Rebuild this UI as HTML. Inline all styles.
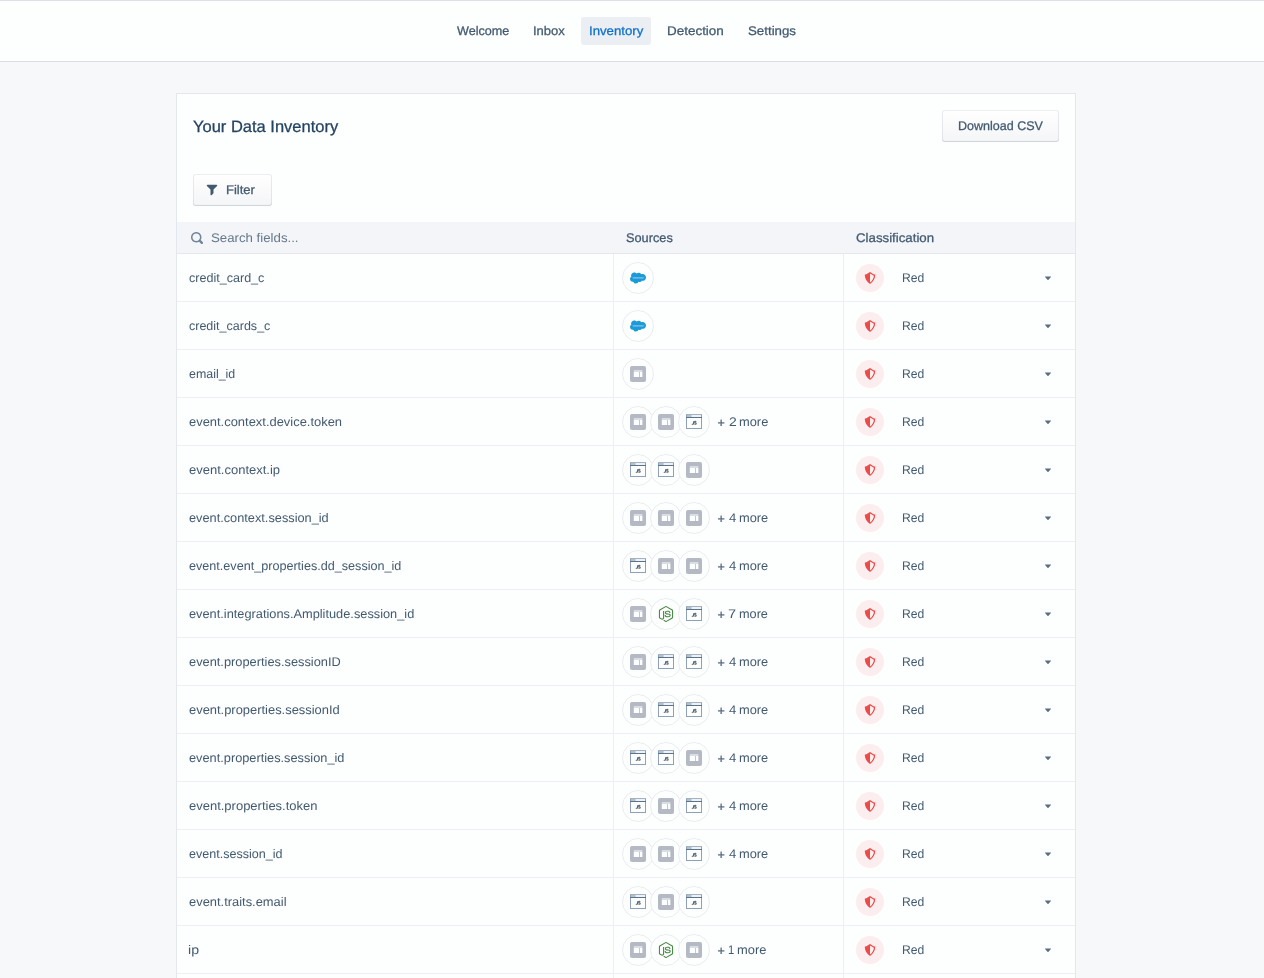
<!DOCTYPE html>
<html><head><meta charset="utf-8"><title>Your Data Inventory</title>
<style>
html,body{margin:0;padding:0}
html{width:1264px;height:978px;overflow:hidden}
body{width:1264px;height:978px;overflow:hidden;position:relative;background:#F6F8FA;font-family:"Liberation Sans",sans-serif}
.abs{position:absolute;display:block}
.nav{position:absolute;left:0;top:0;width:1264px;height:61px;background:#FDFEFE;border-top:1px solid #DCDFE5;border-bottom:1px solid #DADFE5;box-sizing:content-box;height:60px}
.pill{position:absolute;left:581px;top:17px;width:70px;height:28px;border-radius:3px;background:#EBEFF4}
.card{position:absolute;left:176px;top:93px;width:898px;height:884px;border:1px solid #E4E7EB;border-bottom:0;background:#FDFEFE}
.btn{position:absolute;box-sizing:border-box;border-radius:3px;background:linear-gradient(to bottom,#FFFFFF,#F4F5F7);box-shadow:inset 0 0 0 1px rgba(67,90,111,0.10),inset 0 -1px 1px 0 rgba(67,90,111,0.12)}
.thead{position:absolute;left:177px;top:222px;width:898px;height:31px;background:#F3F5F8;border-bottom:1px solid #E4E7EB;border-top:0}
.vsep{position:absolute;top:254px;width:1px;height:724px;background:#EDF0F2}
.hsep{position:absolute;left:177px;width:898px;height:1px;background:#EDF0F2}
.circ{position:absolute;width:30px;height:30px;border:1px solid #EAEDF1;border-radius:50%;background:#FDFEFE}
.circ .ic{position:absolute;left:7px;top:7px;display:block}
.pink{position:absolute;left:856px;width:28px;height:28px;border-radius:50%;background:#FCEEEE}
.pink .sh{position:absolute;left:8px;top:8px;display:block}
.ca{display:block}
.t{position:absolute;white-space:nowrap;text-rendering:geometricPrecision;line-height:0;height:0;transform-origin:0 0}
.tl{position:absolute;left:0;top:0;width:1264px;height:978px;will-change:transform}
.t.m{-webkit-text-stroke:0.28px currentColor}
</style></head>
<body>
<div class="nav"></div>
<div class="pill"></div>
<div class="card">
</div>
<div class="btn" style="left:942px;top:110px;width:117px;height:32px"></div>
<div class="btn" style="left:193px;top:174px;width:79px;height:32px"></div>
<svg class="abs" style="left:206px;top:184px" width="12" height="12" viewBox="0 0 16 16"><path fill="#425A70" d="M13.990.990h-12a1.003 1.003 0 00-.710 1.710l4.710 4.710V14a1.003 1.003 0 001.710.710l2-2c.180-.180.290-.430.290-.710V7.410l4.710-4.710a1.003 1.003 0 00-.710-1.710z"/></svg>
<div class="thead"></div>
<svg class="abs" style="left:191px;top:231.6px" width="12" height="12" viewBox="0 0 16 16"><path fill="#70849A" d="M15.550 13.430l-2.670-2.680a6.940 6.940 0 001.110-3.760c0-3.870-3.130-7-7-7s-7 3.130-7 7 3.130 7 7 7c1.390 0 2.680-.420 3.760-1.110l2.680 2.670a1.498 1.498 0 102.120-2.120zm-8.560-1.440c-2.760 0-5-2.240-5-5s2.240-5 5-5 5 2.240 5 5-2.240 5-5 5z"/></svg>
<div class="vsep" style="left:613px"></div>
<div class="vsep" style="left:843px"></div>
<div class="hsep" style="top:301px"></div>
<div class="circ" style="left:622px;top:262px"><svg class="ic" style="top:7.1px" width="16" height="16" viewBox="0 0 24 24"><path fill="#1B9ADA" d="M10.006 5.415a4.195 4.195 0 013.045-1.306c1.56 0 2.954.9 3.69 2.205.63-.3 1.35-.45 2.1-.45 2.85 0 5.159 2.34 5.159 5.22s-2.31 5.22-5.176 5.22c-.345 0-.69-.044-1.02-.104a3.75 3.75 0 01-3.3 1.95c-.6 0-1.155-.15-1.65-.375A4.314 4.314 0 018.88 20.4a4.302 4.302 0 01-4.05-2.82c-.27.062-.54.076-.825.076-2.204 0-4.005-1.8-4.005-4.05 0-1.5.811-2.805 2.01-3.51-.255-.57-.39-1.2-.39-1.846 0-2.58 2.1-4.65 4.65-4.65 1.53 0 2.85.705 3.72 1.8"/><rect x="4" y="11" width="16.5" height="1.7" fill="#8CCBEC"/></svg></div>
<div class="pink" style="top:264px"><svg class="sh" width="12" height="12" viewBox="0 0 16 16"><path fill="#EC4C47" fill-rule="evenodd" d="M8 16c4.667-3.048 7-7.238 7-12.571-1.556 0-3.889-1.143-7-3.429-3.111 2.286-5.444 3.429-7 3.429C1 8.762 3.333 12.952 8 16zM8 2.121c2.005 1.388 3.715 2.304 5.186 2.735-.342 3.702-2.055 6.741-5.186 9.203V2.121z"/></svg></div>
<div class="abs" style="left:1042px;top:272px;width:12px;height:12px"><svg class="ca" width="12" height="12" viewBox="0 0 16 16"><path fill="#5A6E83" d="M12 6.500c0-.280-.220-.500-.500-.500h-7a.495.495 0 00-.370.830l3.500 4c.090.100.220.170.370.170s.280-.070.370-.170l3.500-4c.080-.090.130-.200.130-.330z"/></svg></div>
<div class="hsep" style="top:349px"></div>
<div class="circ" style="left:622px;top:310px"><svg class="ic" style="top:7.1px" width="16" height="16" viewBox="0 0 24 24"><path fill="#1B9ADA" d="M10.006 5.415a4.195 4.195 0 013.045-1.306c1.56 0 2.954.9 3.69 2.205.63-.3 1.35-.45 2.1-.45 2.85 0 5.159 2.34 5.159 5.22s-2.31 5.22-5.176 5.22c-.345 0-.69-.044-1.02-.104a3.75 3.75 0 01-3.3 1.95c-.6 0-1.155-.15-1.65-.375A4.314 4.314 0 018.88 20.4a4.302 4.302 0 01-4.05-2.82c-.27.062-.54.076-.825.076-2.204 0-4.005-1.8-4.005-4.05 0-1.5.811-2.805 2.01-3.51-.255-.57-.39-1.2-.39-1.846 0-2.58 2.1-4.65 4.65-4.65 1.53 0 2.85.705 3.72 1.8"/><rect x="4" y="11" width="16.5" height="1.7" fill="#8CCBEC"/></svg></div>
<div class="pink" style="top:312px"><svg class="sh" width="12" height="12" viewBox="0 0 16 16"><path fill="#EC4C47" fill-rule="evenodd" d="M8 16c4.667-3.048 7-7.238 7-12.571-1.556 0-3.889-1.143-7-3.429-3.111 2.286-5.444 3.429-7 3.429C1 8.762 3.333 12.952 8 16zM8 2.121c2.005 1.388 3.715 2.304 5.186 2.735-.342 3.702-2.055 6.741-5.186 9.203V2.121z"/></svg></div>
<div class="abs" style="left:1042px;top:320px;width:12px;height:12px"><svg class="ca" width="12" height="12" viewBox="0 0 16 16"><path fill="#5A6E83" d="M12 6.500c0-.280-.220-.500-.500-.500h-7a.495.495 0 00-.370.830l3.500 4c.090.100.220.170.370.170s.280-.070.370-.170l3.500-4c.080-.090.130-.200.130-.330z"/></svg></div>
<div class="hsep" style="top:397px"></div>
<div class="circ" style="left:622px;top:358px"><svg class="ic" width="16" height="16" viewBox="0 0 16 16"><rect width="16" height="16" rx="2" fill="#B4B9C3"/><rect x="3.8" y="4" width="8.6" height="2" fill="#DADDE3"/><rect x="3.8" y="6" width="5.2" height="5" fill="#FDFEFE"/><rect x="9.8" y="6" width="2.6" height="5" fill="#FDFEFE"/></svg></div>
<div class="pink" style="top:360px"><svg class="sh" width="12" height="12" viewBox="0 0 16 16"><path fill="#EC4C47" fill-rule="evenodd" d="M8 16c4.667-3.048 7-7.238 7-12.571-1.556 0-3.889-1.143-7-3.429-3.111 2.286-5.444 3.429-7 3.429C1 8.762 3.333 12.952 8 16zM8 2.121c2.005 1.388 3.715 2.304 5.186 2.735-.342 3.702-2.055 6.741-5.186 9.203V2.121z"/></svg></div>
<div class="abs" style="left:1042px;top:368px;width:12px;height:12px"><svg class="ca" width="12" height="12" viewBox="0 0 16 16"><path fill="#5A6E83" d="M12 6.500c0-.280-.220-.500-.500-.500h-7a.495.495 0 00-.370.830l3.500 4c.090.100.220.170.370.170s.280-.070.370-.170l3.500-4c.080-.090.130-.200.130-.330z"/></svg></div>
<div class="hsep" style="top:445px"></div>
<div class="circ" style="left:622px;top:406px"><svg class="ic" width="16" height="16" viewBox="0 0 16 16"><rect width="16" height="16" rx="2" fill="#B4B9C3"/><rect x="3.8" y="4" width="8.6" height="2" fill="#DADDE3"/><rect x="3.8" y="6" width="5.2" height="5" fill="#FDFEFE"/><rect x="9.8" y="6" width="2.6" height="5" fill="#FDFEFE"/></svg></div>
<div class="circ" style="left:650px;top:406px"><svg class="ic" width="16" height="16" viewBox="0 0 16 16"><rect width="16" height="16" rx="2" fill="#B4B9C3"/><rect x="3.8" y="4" width="8.6" height="2" fill="#DADDE3"/><rect x="3.8" y="6" width="5.2" height="5" fill="#FDFEFE"/><rect x="9.8" y="6" width="2.6" height="5" fill="#FDFEFE"/></svg></div>
<div class="circ" style="left:678px;top:406px"><svg class="ic" width="16" height="16" viewBox="0 0 16 16"><rect x="0.5" y="0.5" width="15" height="14" fill="#FDFEFE" stroke="#8EA0B5"/><rect x="0" y="0" width="16" height="1" fill="#A3B2C3"/><rect x="1" y="1" width="14" height="2" fill="#EEF2F6"/><rect x="1" y="1" width="4.6" height="2" fill="#B6C0CC"/><rect x="0" y="3" width="16" height="1" fill="#5A748F"/><g fill="none" stroke="#4F5F73" stroke-width="1.05"><path d="M7.6 7.2v2.3q0 .8-.8.8q-.6 0-.9-.45"/><path d="M10.2 7.75q-.25-.5-.85-.5q-.8 0-.8.65q0 .5.85.75q.85.25.85.9q0 .75-.9.75q-.7 0-.95-.5"/></g></svg></div>
<div class="pink" style="top:408px"><svg class="sh" width="12" height="12" viewBox="0 0 16 16"><path fill="#EC4C47" fill-rule="evenodd" d="M8 16c4.667-3.048 7-7.238 7-12.571-1.556 0-3.889-1.143-7-3.429-3.111 2.286-5.444 3.429-7 3.429C1 8.762 3.333 12.952 8 16zM8 2.121c2.005 1.388 3.715 2.304 5.186 2.735-.342 3.702-2.055 6.741-5.186 9.203V2.121z"/></svg></div>
<div class="abs" style="left:1042px;top:416px;width:12px;height:12px"><svg class="ca" width="12" height="12" viewBox="0 0 16 16"><path fill="#5A6E83" d="M12 6.500c0-.280-.220-.500-.500-.500h-7a.495.495 0 00-.370.830l3.500 4c.090.100.220.170.370.170s.280-.070.370-.170l3.500-4c.080-.090.130-.200.130-.330z"/></svg></div>
<div class="hsep" style="top:493px"></div>
<div class="circ" style="left:622px;top:454px"><svg class="ic" width="16" height="16" viewBox="0 0 16 16"><rect x="0.5" y="0.5" width="15" height="14" fill="#FDFEFE" stroke="#8EA0B5"/><rect x="0" y="0" width="16" height="1" fill="#A3B2C3"/><rect x="1" y="1" width="14" height="2" fill="#EEF2F6"/><rect x="1" y="1" width="4.6" height="2" fill="#B6C0CC"/><rect x="0" y="3" width="16" height="1" fill="#5A748F"/><g fill="none" stroke="#4F5F73" stroke-width="1.05"><path d="M7.6 7.2v2.3q0 .8-.8.8q-.6 0-.9-.45"/><path d="M10.2 7.75q-.25-.5-.85-.5q-.8 0-.8.65q0 .5.85.75q.85.25.85.9q0 .75-.9.75q-.7 0-.95-.5"/></g></svg></div>
<div class="circ" style="left:650px;top:454px"><svg class="ic" width="16" height="16" viewBox="0 0 16 16"><rect x="0.5" y="0.5" width="15" height="14" fill="#FDFEFE" stroke="#8EA0B5"/><rect x="0" y="0" width="16" height="1" fill="#A3B2C3"/><rect x="1" y="1" width="14" height="2" fill="#EEF2F6"/><rect x="1" y="1" width="4.6" height="2" fill="#B6C0CC"/><rect x="0" y="3" width="16" height="1" fill="#5A748F"/><g fill="none" stroke="#4F5F73" stroke-width="1.05"><path d="M7.6 7.2v2.3q0 .8-.8.8q-.6 0-.9-.45"/><path d="M10.2 7.75q-.25-.5-.85-.5q-.8 0-.8.65q0 .5.85.75q.85.25.85.9q0 .75-.9.75q-.7 0-.95-.5"/></g></svg></div>
<div class="circ" style="left:678px;top:454px"><svg class="ic" width="16" height="16" viewBox="0 0 16 16"><rect width="16" height="16" rx="2" fill="#B4B9C3"/><rect x="3.8" y="4" width="8.6" height="2" fill="#DADDE3"/><rect x="3.8" y="6" width="5.2" height="5" fill="#FDFEFE"/><rect x="9.8" y="6" width="2.6" height="5" fill="#FDFEFE"/></svg></div>
<div class="pink" style="top:456px"><svg class="sh" width="12" height="12" viewBox="0 0 16 16"><path fill="#EC4C47" fill-rule="evenodd" d="M8 16c4.667-3.048 7-7.238 7-12.571-1.556 0-3.889-1.143-7-3.429-3.111 2.286-5.444 3.429-7 3.429C1 8.762 3.333 12.952 8 16zM8 2.121c2.005 1.388 3.715 2.304 5.186 2.735-.342 3.702-2.055 6.741-5.186 9.203V2.121z"/></svg></div>
<div class="abs" style="left:1042px;top:464px;width:12px;height:12px"><svg class="ca" width="12" height="12" viewBox="0 0 16 16"><path fill="#5A6E83" d="M12 6.500c0-.280-.220-.500-.500-.500h-7a.495.495 0 00-.370.830l3.500 4c.090.100.220.170.370.170s.280-.070.370-.170l3.500-4c.080-.090.130-.200.130-.330z"/></svg></div>
<div class="hsep" style="top:541px"></div>
<div class="circ" style="left:622px;top:502px"><svg class="ic" width="16" height="16" viewBox="0 0 16 16"><rect width="16" height="16" rx="2" fill="#B4B9C3"/><rect x="3.8" y="4" width="8.6" height="2" fill="#DADDE3"/><rect x="3.8" y="6" width="5.2" height="5" fill="#FDFEFE"/><rect x="9.8" y="6" width="2.6" height="5" fill="#FDFEFE"/></svg></div>
<div class="circ" style="left:650px;top:502px"><svg class="ic" width="16" height="16" viewBox="0 0 16 16"><rect width="16" height="16" rx="2" fill="#B4B9C3"/><rect x="3.8" y="4" width="8.6" height="2" fill="#DADDE3"/><rect x="3.8" y="6" width="5.2" height="5" fill="#FDFEFE"/><rect x="9.8" y="6" width="2.6" height="5" fill="#FDFEFE"/></svg></div>
<div class="circ" style="left:678px;top:502px"><svg class="ic" width="16" height="16" viewBox="0 0 16 16"><rect width="16" height="16" rx="2" fill="#B4B9C3"/><rect x="3.8" y="4" width="8.6" height="2" fill="#DADDE3"/><rect x="3.8" y="6" width="5.2" height="5" fill="#FDFEFE"/><rect x="9.8" y="6" width="2.6" height="5" fill="#FDFEFE"/></svg></div>
<div class="pink" style="top:504px"><svg class="sh" width="12" height="12" viewBox="0 0 16 16"><path fill="#EC4C47" fill-rule="evenodd" d="M8 16c4.667-3.048 7-7.238 7-12.571-1.556 0-3.889-1.143-7-3.429-3.111 2.286-5.444 3.429-7 3.429C1 8.762 3.333 12.952 8 16zM8 2.121c2.005 1.388 3.715 2.304 5.186 2.735-.342 3.702-2.055 6.741-5.186 9.203V2.121z"/></svg></div>
<div class="abs" style="left:1042px;top:512px;width:12px;height:12px"><svg class="ca" width="12" height="12" viewBox="0 0 16 16"><path fill="#5A6E83" d="M12 6.500c0-.280-.220-.500-.500-.500h-7a.495.495 0 00-.370.830l3.500 4c.090.100.220.170.370.170s.280-.070.370-.170l3.500-4c.080-.090.130-.200.130-.330z"/></svg></div>
<div class="hsep" style="top:589px"></div>
<div class="circ" style="left:622px;top:550px"><svg class="ic" width="16" height="16" viewBox="0 0 16 16"><rect x="0.5" y="0.5" width="15" height="14" fill="#FDFEFE" stroke="#8EA0B5"/><rect x="0" y="0" width="16" height="1" fill="#A3B2C3"/><rect x="1" y="1" width="14" height="2" fill="#EEF2F6"/><rect x="1" y="1" width="4.6" height="2" fill="#B6C0CC"/><rect x="0" y="3" width="16" height="1" fill="#5A748F"/><g fill="none" stroke="#4F5F73" stroke-width="1.05"><path d="M7.6 7.2v2.3q0 .8-.8.8q-.6 0-.9-.45"/><path d="M10.2 7.75q-.25-.5-.85-.5q-.8 0-.8.65q0 .5.85.75q.85.25.85.9q0 .75-.9.75q-.7 0-.95-.5"/></g></svg></div>
<div class="circ" style="left:650px;top:550px"><svg class="ic" width="16" height="16" viewBox="0 0 16 16"><rect width="16" height="16" rx="2" fill="#B4B9C3"/><rect x="3.8" y="4" width="8.6" height="2" fill="#DADDE3"/><rect x="3.8" y="6" width="5.2" height="5" fill="#FDFEFE"/><rect x="9.8" y="6" width="2.6" height="5" fill="#FDFEFE"/></svg></div>
<div class="circ" style="left:678px;top:550px"><svg class="ic" width="16" height="16" viewBox="0 0 16 16"><rect width="16" height="16" rx="2" fill="#B4B9C3"/><rect x="3.8" y="4" width="8.6" height="2" fill="#DADDE3"/><rect x="3.8" y="6" width="5.2" height="5" fill="#FDFEFE"/><rect x="9.8" y="6" width="2.6" height="5" fill="#FDFEFE"/></svg></div>
<div class="pink" style="top:552px"><svg class="sh" width="12" height="12" viewBox="0 0 16 16"><path fill="#EC4C47" fill-rule="evenodd" d="M8 16c4.667-3.048 7-7.238 7-12.571-1.556 0-3.889-1.143-7-3.429-3.111 2.286-5.444 3.429-7 3.429C1 8.762 3.333 12.952 8 16zM8 2.121c2.005 1.388 3.715 2.304 5.186 2.735-.342 3.702-2.055 6.741-5.186 9.203V2.121z"/></svg></div>
<div class="abs" style="left:1042px;top:560px;width:12px;height:12px"><svg class="ca" width="12" height="12" viewBox="0 0 16 16"><path fill="#5A6E83" d="M12 6.500c0-.280-.220-.500-.500-.500h-7a.495.495 0 00-.370.830l3.500 4c.090.100.220.170.370.170s.280-.070.370-.170l3.500-4c.080-.090.130-.200.130-.330z"/></svg></div>
<div class="hsep" style="top:637px"></div>
<div class="circ" style="left:622px;top:598px"><svg class="ic" width="16" height="16" viewBox="0 0 16 16"><rect width="16" height="16" rx="2" fill="#B4B9C3"/><rect x="3.8" y="4" width="8.6" height="2" fill="#DADDE3"/><rect x="3.8" y="6" width="5.2" height="5" fill="#FDFEFE"/><rect x="9.8" y="6" width="2.6" height="5" fill="#FDFEFE"/></svg></div>
<div class="circ" style="left:650px;top:598px"><svg class="ic" width="16" height="16" viewBox="0 0 24 24"><path fill="#43873E" d="M11.998,24c-0.321,0-0.641-0.084-0.922-0.247l-2.936-1.737c-0.438-0.245-0.224-0.332-0.08-0.383 c0.585-0.203,0.703-0.25,1.328-0.604c0.065-0.037,0.151-0.023,0.218,0.017l2.256,1.339c0.082,0.045,0.197,0.045,0.272,0l8.795-5.076 c0.082-0.047,0.134-0.141,0.134-0.238V6.921c0-0.099-0.053-0.192-0.137-0.242l-8.791-5.072c-0.081-0.047-0.189-0.047-0.271,0 L3.075,6.68C2.99,6.729,2.936,6.825,2.936,6.921v10.15c0,0.097,0.054,0.189,0.139,0.235l2.409,1.392 c1.307,0.654,2.108-0.116,2.108-0.89V7.787c0-0.142,0.114-0.253,0.256-0.253h1.115c0.139,0,0.255,0.112,0.255,0.253v10.021 c0,1.745-0.95,2.745-2.604,2.745c-0.508,0-0.909,0-2.026-0.551L2.28,18.675c-0.57-0.329-0.922-0.945-0.922-1.604V6.921 c0-0.659,0.353-1.275,0.922-1.603l8.795-5.082c0.557-0.315,1.296-0.315,1.848,0l8.794,5.082c0.57,0.329,0.924,0.944,0.924,1.603 v10.15c0,0.659-0.354,1.273-0.924,1.604l-8.794,5.078C12.643,23.916,12.324,24,11.998,24z M19.099,13.993 c0-1.9-1.284-2.406-3.987-2.763c-2.731-0.361-3.009-0.548-3.009-1.187c0-0.528,0.235-1.233,2.258-1.233 c1.807,0,2.473,0.389,2.747,1.607c0.024,0.115,0.129,0.199,0.247,0.199h1.141c0.071,0,0.138-0.031,0.186-0.081 c0.048-0.054,0.074-0.123,0.067-0.196c-0.177-2.098-1.571-3.076-4.388-3.076c-2.508,0-4.004,1.058-4.004,2.833 c0,1.925,1.488,2.457,3.895,2.695c2.88,0.282,3.103,0.703,3.103,1.269c0,0.983-0.789,1.402-2.642,1.402 c-2.327,0-2.839-0.584-3.011-1.742c-0.02-0.124-0.126-0.215-0.253-0.215h-1.137c-0.141,0-0.254,0.112-0.254,0.253 c0,1.482,0.806,3.248,4.655,3.248C17.501,17.007,19.099,15.91,19.099,13.993z"/></svg></div>
<div class="circ" style="left:678px;top:598px"><svg class="ic" width="16" height="16" viewBox="0 0 16 16"><rect x="0.5" y="0.5" width="15" height="14" fill="#FDFEFE" stroke="#8EA0B5"/><rect x="0" y="0" width="16" height="1" fill="#A3B2C3"/><rect x="1" y="1" width="14" height="2" fill="#EEF2F6"/><rect x="1" y="1" width="4.6" height="2" fill="#B6C0CC"/><rect x="0" y="3" width="16" height="1" fill="#5A748F"/><g fill="none" stroke="#4F5F73" stroke-width="1.05"><path d="M7.6 7.2v2.3q0 .8-.8.8q-.6 0-.9-.45"/><path d="M10.2 7.75q-.25-.5-.85-.5q-.8 0-.8.65q0 .5.85.75q.85.25.85.9q0 .75-.9.75q-.7 0-.95-.5"/></g></svg></div>
<div class="pink" style="top:600px"><svg class="sh" width="12" height="12" viewBox="0 0 16 16"><path fill="#EC4C47" fill-rule="evenodd" d="M8 16c4.667-3.048 7-7.238 7-12.571-1.556 0-3.889-1.143-7-3.429-3.111 2.286-5.444 3.429-7 3.429C1 8.762 3.333 12.952 8 16zM8 2.121c2.005 1.388 3.715 2.304 5.186 2.735-.342 3.702-2.055 6.741-5.186 9.203V2.121z"/></svg></div>
<div class="abs" style="left:1042px;top:608px;width:12px;height:12px"><svg class="ca" width="12" height="12" viewBox="0 0 16 16"><path fill="#5A6E83" d="M12 6.500c0-.280-.220-.500-.500-.500h-7a.495.495 0 00-.370.830l3.500 4c.090.100.220.170.370.170s.280-.070.370-.170l3.500-4c.080-.090.130-.200.130-.330z"/></svg></div>
<div class="hsep" style="top:685px"></div>
<div class="circ" style="left:622px;top:646px"><svg class="ic" width="16" height="16" viewBox="0 0 16 16"><rect width="16" height="16" rx="2" fill="#B4B9C3"/><rect x="3.8" y="4" width="8.6" height="2" fill="#DADDE3"/><rect x="3.8" y="6" width="5.2" height="5" fill="#FDFEFE"/><rect x="9.8" y="6" width="2.6" height="5" fill="#FDFEFE"/></svg></div>
<div class="circ" style="left:650px;top:646px"><svg class="ic" width="16" height="16" viewBox="0 0 16 16"><rect x="0.5" y="0.5" width="15" height="14" fill="#FDFEFE" stroke="#8EA0B5"/><rect x="0" y="0" width="16" height="1" fill="#A3B2C3"/><rect x="1" y="1" width="14" height="2" fill="#EEF2F6"/><rect x="1" y="1" width="4.6" height="2" fill="#B6C0CC"/><rect x="0" y="3" width="16" height="1" fill="#5A748F"/><g fill="none" stroke="#4F5F73" stroke-width="1.05"><path d="M7.6 7.2v2.3q0 .8-.8.8q-.6 0-.9-.45"/><path d="M10.2 7.75q-.25-.5-.85-.5q-.8 0-.8.65q0 .5.85.75q.85.25.85.9q0 .75-.9.75q-.7 0-.95-.5"/></g></svg></div>
<div class="circ" style="left:678px;top:646px"><svg class="ic" width="16" height="16" viewBox="0 0 16 16"><rect x="0.5" y="0.5" width="15" height="14" fill="#FDFEFE" stroke="#8EA0B5"/><rect x="0" y="0" width="16" height="1" fill="#A3B2C3"/><rect x="1" y="1" width="14" height="2" fill="#EEF2F6"/><rect x="1" y="1" width="4.6" height="2" fill="#B6C0CC"/><rect x="0" y="3" width="16" height="1" fill="#5A748F"/><g fill="none" stroke="#4F5F73" stroke-width="1.05"><path d="M7.6 7.2v2.3q0 .8-.8.8q-.6 0-.9-.45"/><path d="M10.2 7.75q-.25-.5-.85-.5q-.8 0-.8.65q0 .5.85.75q.85.25.85.9q0 .75-.9.75q-.7 0-.95-.5"/></g></svg></div>
<div class="pink" style="top:648px"><svg class="sh" width="12" height="12" viewBox="0 0 16 16"><path fill="#EC4C47" fill-rule="evenodd" d="M8 16c4.667-3.048 7-7.238 7-12.571-1.556 0-3.889-1.143-7-3.429-3.111 2.286-5.444 3.429-7 3.429C1 8.762 3.333 12.952 8 16zM8 2.121c2.005 1.388 3.715 2.304 5.186 2.735-.342 3.702-2.055 6.741-5.186 9.203V2.121z"/></svg></div>
<div class="abs" style="left:1042px;top:656px;width:12px;height:12px"><svg class="ca" width="12" height="12" viewBox="0 0 16 16"><path fill="#5A6E83" d="M12 6.500c0-.280-.220-.500-.500-.500h-7a.495.495 0 00-.370.830l3.500 4c.090.100.220.170.370.170s.280-.070.370-.170l3.500-4c.080-.090.130-.200.130-.330z"/></svg></div>
<div class="hsep" style="top:733px"></div>
<div class="circ" style="left:622px;top:694px"><svg class="ic" width="16" height="16" viewBox="0 0 16 16"><rect width="16" height="16" rx="2" fill="#B4B9C3"/><rect x="3.8" y="4" width="8.6" height="2" fill="#DADDE3"/><rect x="3.8" y="6" width="5.2" height="5" fill="#FDFEFE"/><rect x="9.8" y="6" width="2.6" height="5" fill="#FDFEFE"/></svg></div>
<div class="circ" style="left:650px;top:694px"><svg class="ic" width="16" height="16" viewBox="0 0 16 16"><rect x="0.5" y="0.5" width="15" height="14" fill="#FDFEFE" stroke="#8EA0B5"/><rect x="0" y="0" width="16" height="1" fill="#A3B2C3"/><rect x="1" y="1" width="14" height="2" fill="#EEF2F6"/><rect x="1" y="1" width="4.6" height="2" fill="#B6C0CC"/><rect x="0" y="3" width="16" height="1" fill="#5A748F"/><g fill="none" stroke="#4F5F73" stroke-width="1.05"><path d="M7.6 7.2v2.3q0 .8-.8.8q-.6 0-.9-.45"/><path d="M10.2 7.75q-.25-.5-.85-.5q-.8 0-.8.65q0 .5.85.75q.85.25.85.9q0 .75-.9.75q-.7 0-.95-.5"/></g></svg></div>
<div class="circ" style="left:678px;top:694px"><svg class="ic" width="16" height="16" viewBox="0 0 16 16"><rect x="0.5" y="0.5" width="15" height="14" fill="#FDFEFE" stroke="#8EA0B5"/><rect x="0" y="0" width="16" height="1" fill="#A3B2C3"/><rect x="1" y="1" width="14" height="2" fill="#EEF2F6"/><rect x="1" y="1" width="4.6" height="2" fill="#B6C0CC"/><rect x="0" y="3" width="16" height="1" fill="#5A748F"/><g fill="none" stroke="#4F5F73" stroke-width="1.05"><path d="M7.6 7.2v2.3q0 .8-.8.8q-.6 0-.9-.45"/><path d="M10.2 7.75q-.25-.5-.85-.5q-.8 0-.8.65q0 .5.85.75q.85.25.85.9q0 .75-.9.75q-.7 0-.95-.5"/></g></svg></div>
<div class="pink" style="top:696px"><svg class="sh" width="12" height="12" viewBox="0 0 16 16"><path fill="#EC4C47" fill-rule="evenodd" d="M8 16c4.667-3.048 7-7.238 7-12.571-1.556 0-3.889-1.143-7-3.429-3.111 2.286-5.444 3.429-7 3.429C1 8.762 3.333 12.952 8 16zM8 2.121c2.005 1.388 3.715 2.304 5.186 2.735-.342 3.702-2.055 6.741-5.186 9.203V2.121z"/></svg></div>
<div class="abs" style="left:1042px;top:704px;width:12px;height:12px"><svg class="ca" width="12" height="12" viewBox="0 0 16 16"><path fill="#5A6E83" d="M12 6.500c0-.280-.220-.500-.500-.500h-7a.495.495 0 00-.370.830l3.500 4c.090.100.220.170.370.170s.280-.070.370-.170l3.500-4c.080-.090.130-.200.130-.330z"/></svg></div>
<div class="hsep" style="top:781px"></div>
<div class="circ" style="left:622px;top:742px"><svg class="ic" width="16" height="16" viewBox="0 0 16 16"><rect x="0.5" y="0.5" width="15" height="14" fill="#FDFEFE" stroke="#8EA0B5"/><rect x="0" y="0" width="16" height="1" fill="#A3B2C3"/><rect x="1" y="1" width="14" height="2" fill="#EEF2F6"/><rect x="1" y="1" width="4.6" height="2" fill="#B6C0CC"/><rect x="0" y="3" width="16" height="1" fill="#5A748F"/><g fill="none" stroke="#4F5F73" stroke-width="1.05"><path d="M7.6 7.2v2.3q0 .8-.8.8q-.6 0-.9-.45"/><path d="M10.2 7.75q-.25-.5-.85-.5q-.8 0-.8.65q0 .5.85.75q.85.25.85.9q0 .75-.9.75q-.7 0-.95-.5"/></g></svg></div>
<div class="circ" style="left:650px;top:742px"><svg class="ic" width="16" height="16" viewBox="0 0 16 16"><rect x="0.5" y="0.5" width="15" height="14" fill="#FDFEFE" stroke="#8EA0B5"/><rect x="0" y="0" width="16" height="1" fill="#A3B2C3"/><rect x="1" y="1" width="14" height="2" fill="#EEF2F6"/><rect x="1" y="1" width="4.6" height="2" fill="#B6C0CC"/><rect x="0" y="3" width="16" height="1" fill="#5A748F"/><g fill="none" stroke="#4F5F73" stroke-width="1.05"><path d="M7.6 7.2v2.3q0 .8-.8.8q-.6 0-.9-.45"/><path d="M10.2 7.75q-.25-.5-.85-.5q-.8 0-.8.65q0 .5.85.75q.85.25.85.9q0 .75-.9.75q-.7 0-.95-.5"/></g></svg></div>
<div class="circ" style="left:678px;top:742px"><svg class="ic" width="16" height="16" viewBox="0 0 16 16"><rect width="16" height="16" rx="2" fill="#B4B9C3"/><rect x="3.8" y="4" width="8.6" height="2" fill="#DADDE3"/><rect x="3.8" y="6" width="5.2" height="5" fill="#FDFEFE"/><rect x="9.8" y="6" width="2.6" height="5" fill="#FDFEFE"/></svg></div>
<div class="pink" style="top:744px"><svg class="sh" width="12" height="12" viewBox="0 0 16 16"><path fill="#EC4C47" fill-rule="evenodd" d="M8 16c4.667-3.048 7-7.238 7-12.571-1.556 0-3.889-1.143-7-3.429-3.111 2.286-5.444 3.429-7 3.429C1 8.762 3.333 12.952 8 16zM8 2.121c2.005 1.388 3.715 2.304 5.186 2.735-.342 3.702-2.055 6.741-5.186 9.203V2.121z"/></svg></div>
<div class="abs" style="left:1042px;top:752px;width:12px;height:12px"><svg class="ca" width="12" height="12" viewBox="0 0 16 16"><path fill="#5A6E83" d="M12 6.500c0-.280-.220-.500-.500-.500h-7a.495.495 0 00-.370.830l3.500 4c.090.100.220.170.370.170s.280-.070.370-.170l3.500-4c.080-.090.130-.200.130-.330z"/></svg></div>
<div class="hsep" style="top:829px"></div>
<div class="circ" style="left:622px;top:790px"><svg class="ic" width="16" height="16" viewBox="0 0 16 16"><rect x="0.5" y="0.5" width="15" height="14" fill="#FDFEFE" stroke="#8EA0B5"/><rect x="0" y="0" width="16" height="1" fill="#A3B2C3"/><rect x="1" y="1" width="14" height="2" fill="#EEF2F6"/><rect x="1" y="1" width="4.6" height="2" fill="#B6C0CC"/><rect x="0" y="3" width="16" height="1" fill="#5A748F"/><g fill="none" stroke="#4F5F73" stroke-width="1.05"><path d="M7.6 7.2v2.3q0 .8-.8.8q-.6 0-.9-.45"/><path d="M10.2 7.75q-.25-.5-.85-.5q-.8 0-.8.65q0 .5.85.75q.85.25.85.9q0 .75-.9.75q-.7 0-.95-.5"/></g></svg></div>
<div class="circ" style="left:650px;top:790px"><svg class="ic" width="16" height="16" viewBox="0 0 16 16"><rect width="16" height="16" rx="2" fill="#B4B9C3"/><rect x="3.8" y="4" width="8.6" height="2" fill="#DADDE3"/><rect x="3.8" y="6" width="5.2" height="5" fill="#FDFEFE"/><rect x="9.8" y="6" width="2.6" height="5" fill="#FDFEFE"/></svg></div>
<div class="circ" style="left:678px;top:790px"><svg class="ic" width="16" height="16" viewBox="0 0 16 16"><rect x="0.5" y="0.5" width="15" height="14" fill="#FDFEFE" stroke="#8EA0B5"/><rect x="0" y="0" width="16" height="1" fill="#A3B2C3"/><rect x="1" y="1" width="14" height="2" fill="#EEF2F6"/><rect x="1" y="1" width="4.6" height="2" fill="#B6C0CC"/><rect x="0" y="3" width="16" height="1" fill="#5A748F"/><g fill="none" stroke="#4F5F73" stroke-width="1.05"><path d="M7.6 7.2v2.3q0 .8-.8.8q-.6 0-.9-.45"/><path d="M10.2 7.75q-.25-.5-.85-.5q-.8 0-.8.65q0 .5.85.75q.85.25.85.9q0 .75-.9.75q-.7 0-.95-.5"/></g></svg></div>
<div class="pink" style="top:792px"><svg class="sh" width="12" height="12" viewBox="0 0 16 16"><path fill="#EC4C47" fill-rule="evenodd" d="M8 16c4.667-3.048 7-7.238 7-12.571-1.556 0-3.889-1.143-7-3.429-3.111 2.286-5.444 3.429-7 3.429C1 8.762 3.333 12.952 8 16zM8 2.121c2.005 1.388 3.715 2.304 5.186 2.735-.342 3.702-2.055 6.741-5.186 9.203V2.121z"/></svg></div>
<div class="abs" style="left:1042px;top:800px;width:12px;height:12px"><svg class="ca" width="12" height="12" viewBox="0 0 16 16"><path fill="#5A6E83" d="M12 6.500c0-.280-.220-.500-.500-.500h-7a.495.495 0 00-.370.830l3.500 4c.090.100.220.170.370.170s.280-.070.370-.170l3.500-4c.080-.090.130-.200.130-.330z"/></svg></div>
<div class="hsep" style="top:877px"></div>
<div class="circ" style="left:622px;top:838px"><svg class="ic" width="16" height="16" viewBox="0 0 16 16"><rect width="16" height="16" rx="2" fill="#B4B9C3"/><rect x="3.8" y="4" width="8.6" height="2" fill="#DADDE3"/><rect x="3.8" y="6" width="5.2" height="5" fill="#FDFEFE"/><rect x="9.8" y="6" width="2.6" height="5" fill="#FDFEFE"/></svg></div>
<div class="circ" style="left:650px;top:838px"><svg class="ic" width="16" height="16" viewBox="0 0 16 16"><rect width="16" height="16" rx="2" fill="#B4B9C3"/><rect x="3.8" y="4" width="8.6" height="2" fill="#DADDE3"/><rect x="3.8" y="6" width="5.2" height="5" fill="#FDFEFE"/><rect x="9.8" y="6" width="2.6" height="5" fill="#FDFEFE"/></svg></div>
<div class="circ" style="left:678px;top:838px"><svg class="ic" width="16" height="16" viewBox="0 0 16 16"><rect x="0.5" y="0.5" width="15" height="14" fill="#FDFEFE" stroke="#8EA0B5"/><rect x="0" y="0" width="16" height="1" fill="#A3B2C3"/><rect x="1" y="1" width="14" height="2" fill="#EEF2F6"/><rect x="1" y="1" width="4.6" height="2" fill="#B6C0CC"/><rect x="0" y="3" width="16" height="1" fill="#5A748F"/><g fill="none" stroke="#4F5F73" stroke-width="1.05"><path d="M7.6 7.2v2.3q0 .8-.8.8q-.6 0-.9-.45"/><path d="M10.2 7.75q-.25-.5-.85-.5q-.8 0-.8.65q0 .5.85.75q.85.25.85.9q0 .75-.9.75q-.7 0-.95-.5"/></g></svg></div>
<div class="pink" style="top:840px"><svg class="sh" width="12" height="12" viewBox="0 0 16 16"><path fill="#EC4C47" fill-rule="evenodd" d="M8 16c4.667-3.048 7-7.238 7-12.571-1.556 0-3.889-1.143-7-3.429-3.111 2.286-5.444 3.429-7 3.429C1 8.762 3.333 12.952 8 16zM8 2.121c2.005 1.388 3.715 2.304 5.186 2.735-.342 3.702-2.055 6.741-5.186 9.203V2.121z"/></svg></div>
<div class="abs" style="left:1042px;top:848px;width:12px;height:12px"><svg class="ca" width="12" height="12" viewBox="0 0 16 16"><path fill="#5A6E83" d="M12 6.500c0-.280-.220-.500-.500-.500h-7a.495.495 0 00-.370.830l3.500 4c.090.100.220.170.370.170s.280-.070.370-.170l3.500-4c.080-.090.130-.200.130-.330z"/></svg></div>
<div class="hsep" style="top:925px"></div>
<div class="circ" style="left:622px;top:886px"><svg class="ic" width="16" height="16" viewBox="0 0 16 16"><rect x="0.5" y="0.5" width="15" height="14" fill="#FDFEFE" stroke="#8EA0B5"/><rect x="0" y="0" width="16" height="1" fill="#A3B2C3"/><rect x="1" y="1" width="14" height="2" fill="#EEF2F6"/><rect x="1" y="1" width="4.6" height="2" fill="#B6C0CC"/><rect x="0" y="3" width="16" height="1" fill="#5A748F"/><g fill="none" stroke="#4F5F73" stroke-width="1.05"><path d="M7.6 7.2v2.3q0 .8-.8.8q-.6 0-.9-.45"/><path d="M10.2 7.75q-.25-.5-.85-.5q-.8 0-.8.65q0 .5.85.75q.85.25.85.9q0 .75-.9.75q-.7 0-.95-.5"/></g></svg></div>
<div class="circ" style="left:650px;top:886px"><svg class="ic" width="16" height="16" viewBox="0 0 16 16"><rect width="16" height="16" rx="2" fill="#B4B9C3"/><rect x="3.8" y="4" width="8.6" height="2" fill="#DADDE3"/><rect x="3.8" y="6" width="5.2" height="5" fill="#FDFEFE"/><rect x="9.8" y="6" width="2.6" height="5" fill="#FDFEFE"/></svg></div>
<div class="circ" style="left:678px;top:886px"><svg class="ic" width="16" height="16" viewBox="0 0 16 16"><rect x="0.5" y="0.5" width="15" height="14" fill="#FDFEFE" stroke="#8EA0B5"/><rect x="0" y="0" width="16" height="1" fill="#A3B2C3"/><rect x="1" y="1" width="14" height="2" fill="#EEF2F6"/><rect x="1" y="1" width="4.6" height="2" fill="#B6C0CC"/><rect x="0" y="3" width="16" height="1" fill="#5A748F"/><g fill="none" stroke="#4F5F73" stroke-width="1.05"><path d="M7.6 7.2v2.3q0 .8-.8.8q-.6 0-.9-.45"/><path d="M10.2 7.75q-.25-.5-.85-.5q-.8 0-.8.65q0 .5.85.75q.85.25.85.9q0 .75-.9.75q-.7 0-.95-.5"/></g></svg></div>
<div class="pink" style="top:888px"><svg class="sh" width="12" height="12" viewBox="0 0 16 16"><path fill="#EC4C47" fill-rule="evenodd" d="M8 16c4.667-3.048 7-7.238 7-12.571-1.556 0-3.889-1.143-7-3.429-3.111 2.286-5.444 3.429-7 3.429C1 8.762 3.333 12.952 8 16zM8 2.121c2.005 1.388 3.715 2.304 5.186 2.735-.342 3.702-2.055 6.741-5.186 9.203V2.121z"/></svg></div>
<div class="abs" style="left:1042px;top:896px;width:12px;height:12px"><svg class="ca" width="12" height="12" viewBox="0 0 16 16"><path fill="#5A6E83" d="M12 6.500c0-.280-.220-.500-.500-.500h-7a.495.495 0 00-.370.830l3.500 4c.090.100.220.170.370.170s.280-.070.370-.170l3.500-4c.080-.090.130-.200.130-.330z"/></svg></div>
<div class="hsep" style="top:973px"></div>
<div class="circ" style="left:622px;top:934px"><svg class="ic" width="16" height="16" viewBox="0 0 16 16"><rect width="16" height="16" rx="2" fill="#B4B9C3"/><rect x="3.8" y="4" width="8.6" height="2" fill="#DADDE3"/><rect x="3.8" y="6" width="5.2" height="5" fill="#FDFEFE"/><rect x="9.8" y="6" width="2.6" height="5" fill="#FDFEFE"/></svg></div>
<div class="circ" style="left:650px;top:934px"><svg class="ic" width="16" height="16" viewBox="0 0 24 24"><path fill="#43873E" d="M11.998,24c-0.321,0-0.641-0.084-0.922-0.247l-2.936-1.737c-0.438-0.245-0.224-0.332-0.08-0.383 c0.585-0.203,0.703-0.25,1.328-0.604c0.065-0.037,0.151-0.023,0.218,0.017l2.256,1.339c0.082,0.045,0.197,0.045,0.272,0l8.795-5.076 c0.082-0.047,0.134-0.141,0.134-0.238V6.921c0-0.099-0.053-0.192-0.137-0.242l-8.791-5.072c-0.081-0.047-0.189-0.047-0.271,0 L3.075,6.68C2.99,6.729,2.936,6.825,2.936,6.921v10.15c0,0.097,0.054,0.189,0.139,0.235l2.409,1.392 c1.307,0.654,2.108-0.116,2.108-0.89V7.787c0-0.142,0.114-0.253,0.256-0.253h1.115c0.139,0,0.255,0.112,0.255,0.253v10.021 c0,1.745-0.95,2.745-2.604,2.745c-0.508,0-0.909,0-2.026-0.551L2.28,18.675c-0.57-0.329-0.922-0.945-0.922-1.604V6.921 c0-0.659,0.353-1.275,0.922-1.603l8.795-5.082c0.557-0.315,1.296-0.315,1.848,0l8.794,5.082c0.57,0.329,0.924,0.944,0.924,1.603 v10.15c0,0.659-0.354,1.273-0.924,1.604l-8.794,5.078C12.643,23.916,12.324,24,11.998,24z M19.099,13.993 c0-1.9-1.284-2.406-3.987-2.763c-2.731-0.361-3.009-0.548-3.009-1.187c0-0.528,0.235-1.233,2.258-1.233 c1.807,0,2.473,0.389,2.747,1.607c0.024,0.115,0.129,0.199,0.247,0.199h1.141c0.071,0,0.138-0.031,0.186-0.081 c0.048-0.054,0.074-0.123,0.067-0.196c-0.177-2.098-1.571-3.076-4.388-3.076c-2.508,0-4.004,1.058-4.004,2.833 c0,1.925,1.488,2.457,3.895,2.695c2.88,0.282,3.103,0.703,3.103,1.269c0,0.983-0.789,1.402-2.642,1.402 c-2.327,0-2.839-0.584-3.011-1.742c-0.02-0.124-0.126-0.215-0.253-0.215h-1.137c-0.141,0-0.254,0.112-0.254,0.253 c0,1.482,0.806,3.248,4.655,3.248C17.501,17.007,19.099,15.91,19.099,13.993z"/></svg></div>
<div class="circ" style="left:678px;top:934px"><svg class="ic" width="16" height="16" viewBox="0 0 16 16"><rect width="16" height="16" rx="2" fill="#B4B9C3"/><rect x="3.8" y="4" width="8.6" height="2" fill="#DADDE3"/><rect x="3.8" y="6" width="5.2" height="5" fill="#FDFEFE"/><rect x="9.8" y="6" width="2.6" height="5" fill="#FDFEFE"/></svg></div>
<div class="pink" style="top:936px"><svg class="sh" width="12" height="12" viewBox="0 0 16 16"><path fill="#EC4C47" fill-rule="evenodd" d="M8 16c4.667-3.048 7-7.238 7-12.571-1.556 0-3.889-1.143-7-3.429-3.111 2.286-5.444 3.429-7 3.429C1 8.762 3.333 12.952 8 16zM8 2.121c2.005 1.388 3.715 2.304 5.186 2.735-.342 3.702-2.055 6.741-5.186 9.203V2.121z"/></svg></div>
<div class="abs" style="left:1042px;top:944px;width:12px;height:12px"><svg class="ca" width="12" height="12" viewBox="0 0 16 16"><path fill="#5A6E83" d="M12 6.500c0-.280-.220-.500-.500-.500h-7a.495.495 0 00-.370.830l3.500 4c.090.100.220.170.370.170s.280-.070.370-.170l3.500-4c.080-.090.130-.200.130-.330z"/></svg></div>
<div class="tl">
<span id="n0" class="t m" style="left:457.05px;top:31.00px;font-size:12.5px;color:#425A70;transform:scaleX(1.0078)">Welcome</span>
<span id="n1" class="t m" style="left:532.98px;top:31.00px;font-size:12.5px;color:#425A70;transform:scaleX(1.0388)">Inbox</span>
<span id="n2" class="t m" style="left:588.99px;top:31.00px;font-size:12.5px;color:#1070CA;transform:scaleX(1.0553)">Inventory</span>
<span id="n3" class="t m" style="left:666.88px;top:31.00px;font-size:12.5px;color:#425A70;transform:scaleX(1.0757)">Detection</span>
<span id="n4" class="t m" style="left:747.67px;top:31.00px;font-size:12.5px;color:#425A70;transform:scaleX(1.0629)">Settings</span>
<span id="title" class="t m" style="left:193.16px;top:127.00px;font-size:16.5px;color:#234361;transform:scaleX(0.9994)">Your Data Inventory</span>
<span id="dl" class="t m" style="left:957.70px;top:125.60px;font-size:12.5px;color:#425A70;transform:scaleX(1.0012)">Download CSV</span>
<span id="flt" class="t m" style="left:225.87px;top:189.70px;font-size:12.5px;color:#425A70;transform:scaleX(1.0407)">Filter</span>
<span id="srch" class="t " style="left:210.71px;top:238.00px;font-size:12.5px;color:#66788A;transform:scaleX(1.0588)">Search fields...</span>
<span id="h1" class="t m" style="left:626.02px;top:237.90px;font-size:12.5px;color:#425A70;transform:scaleX(1.0204)">Sources</span>
<span id="h2" class="t m" style="left:856.47px;top:237.90px;font-size:12.5px;color:#425A70;transform:scaleX(1.0607)">Classification</span>
<span id="r0" class="t " style="left:188.78px;top:277.70px;font-size:12.5px;color:#425A70;transform:scaleX(1.0045)">credit_card_c</span>
<span id="c0" class="t " style="left:901.83px;top:277.70px;font-size:12.5px;color:#425A70;transform:scaleX(0.9714)">Red</span>
<span id="r1" class="t " style="left:189.03px;top:325.70px;font-size:12.5px;color:#425A70;transform:scaleX(1.0006)">credit_cards_c</span>
<span id="c1" class="t " style="left:901.83px;top:325.70px;font-size:12.5px;color:#425A70;transform:scaleX(0.9714)">Red</span>
<span id="r2" class="t " style="left:188.72px;top:373.70px;font-size:12.5px;color:#425A70;transform:scaleX(0.9935)">email_id</span>
<span id="c2" class="t " style="left:901.83px;top:373.70px;font-size:12.5px;color:#425A70;transform:scaleX(0.9714)">Red</span>
<span id="r3" class="t " style="left:188.73px;top:421.70px;font-size:12.5px;color:#425A70;transform:scaleX(1.0341)">event.context.device.token</span>
<span id="d3" class="t " style="left:728.88px;top:421.70px;font-size:12.5px;color:#425A70;transform:scaleX(1.1130)">2</span>
<span id="m3" class="t " style="left:739.39px;top:421.70px;font-size:12.5px;color:#425A70;transform:scaleX(1.0278)">more</span>
<span id="c3" class="t " style="left:901.83px;top:421.70px;font-size:12.5px;color:#425A70;transform:scaleX(0.9714)">Red</span>
<span id="r4" class="t " style="left:188.73px;top:469.70px;font-size:12.5px;color:#425A70;transform:scaleX(1.0405)">event.context.ip</span>
<span id="c4" class="t " style="left:901.83px;top:469.70px;font-size:12.5px;color:#425A70;transform:scaleX(0.9714)">Red</span>
<span id="r5" class="t " style="left:188.74px;top:517.70px;font-size:12.5px;color:#425A70;transform:scaleX(1.0203)">event.context.session_id</span>
<span id="d5" class="t " style="left:728.87px;top:517.70px;font-size:12.5px;color:#425A70;transform:scaleX(1.0519)">4</span>
<span id="m5" class="t " style="left:739.43px;top:517.70px;font-size:12.5px;color:#425A70;transform:scaleX(1.0252)">more</span>
<span id="c5" class="t " style="left:901.83px;top:517.70px;font-size:12.5px;color:#425A70;transform:scaleX(0.9714)">Red</span>
<span id="r6" class="t " style="left:188.75px;top:565.70px;font-size:12.5px;color:#425A70;transform:scaleX(1.0084)">event.event_properties.dd_session_id</span>
<span id="d6" class="t " style="left:728.87px;top:565.70px;font-size:12.5px;color:#425A70;transform:scaleX(1.0519)">4</span>
<span id="m6" class="t " style="left:739.43px;top:565.70px;font-size:12.5px;color:#425A70;transform:scaleX(1.0252)">more</span>
<span id="c6" class="t " style="left:901.83px;top:565.70px;font-size:12.5px;color:#425A70;transform:scaleX(0.9714)">Red</span>
<span id="r7" class="t " style="left:188.74px;top:613.70px;font-size:12.5px;color:#425A70;transform:scaleX(1.0228)">event.integrations.Amplitude.session_id</span>
<span id="d7" class="t " style="left:728.20px;top:613.70px;font-size:12.5px;color:#425A70;transform:scaleX(1.1700)">7</span>
<span id="m7" class="t " style="left:739.05px;top:613.70px;font-size:12.5px;color:#425A70;transform:scaleX(1.0161)">more</span>
<span id="c7" class="t " style="left:901.83px;top:613.70px;font-size:12.5px;color:#425A70;transform:scaleX(0.9714)">Red</span>
<span id="r8" class="t " style="left:188.74px;top:661.70px;font-size:12.5px;color:#425A70;transform:scaleX(1.0256)">event.properties.sessionID</span>
<span id="d8" class="t " style="left:728.87px;top:661.70px;font-size:12.5px;color:#425A70;transform:scaleX(1.0519)">4</span>
<span id="m8" class="t " style="left:739.43px;top:661.70px;font-size:12.5px;color:#425A70;transform:scaleX(1.0252)">more</span>
<span id="c8" class="t " style="left:901.83px;top:661.70px;font-size:12.5px;color:#425A70;transform:scaleX(0.9714)">Red</span>
<span id="r9" class="t " style="left:188.73px;top:709.70px;font-size:12.5px;color:#425A70;transform:scaleX(1.0329)">event.properties.sessionId</span>
<span id="d9" class="t " style="left:728.87px;top:709.70px;font-size:12.5px;color:#425A70;transform:scaleX(1.0519)">4</span>
<span id="m9" class="t " style="left:739.43px;top:709.70px;font-size:12.5px;color:#425A70;transform:scaleX(1.0252)">more</span>
<span id="c9" class="t " style="left:901.83px;top:709.70px;font-size:12.5px;color:#425A70;transform:scaleX(0.9714)">Red</span>
<span id="r10" class="t " style="left:188.74px;top:757.70px;font-size:12.5px;color:#425A70;transform:scaleX(1.0215)">event.properties.session_id</span>
<span id="d10" class="t " style="left:728.87px;top:757.70px;font-size:12.5px;color:#425A70;transform:scaleX(1.0519)">4</span>
<span id="m10" class="t " style="left:739.43px;top:757.70px;font-size:12.5px;color:#425A70;transform:scaleX(1.0252)">more</span>
<span id="c10" class="t " style="left:901.83px;top:757.70px;font-size:12.5px;color:#425A70;transform:scaleX(0.9714)">Red</span>
<span id="r11" class="t " style="left:188.73px;top:805.70px;font-size:12.5px;color:#425A70;transform:scaleX(1.0388)">event.properties.token</span>
<span id="d11" class="t " style="left:728.87px;top:805.70px;font-size:12.5px;color:#425A70;transform:scaleX(1.0519)">4</span>
<span id="m11" class="t " style="left:739.43px;top:805.70px;font-size:12.5px;color:#425A70;transform:scaleX(1.0252)">more</span>
<span id="c11" class="t " style="left:901.83px;top:805.70px;font-size:12.5px;color:#425A70;transform:scaleX(0.9714)">Red</span>
<span id="r12" class="t " style="left:188.73px;top:853.70px;font-size:12.5px;color:#425A70;transform:scaleX(1.0043)">event.session_id</span>
<span id="d12" class="t " style="left:728.87px;top:853.70px;font-size:12.5px;color:#425A70;transform:scaleX(1.0519)">4</span>
<span id="m12" class="t " style="left:739.43px;top:853.70px;font-size:12.5px;color:#425A70;transform:scaleX(1.0252)">more</span>
<span id="c12" class="t " style="left:901.83px;top:853.70px;font-size:12.5px;color:#425A70;transform:scaleX(0.9714)">Red</span>
<span id="r13" class="t " style="left:188.73px;top:901.70px;font-size:12.5px;color:#425A70;transform:scaleX(1.0322)">event.traits.email</span>
<span id="c13" class="t " style="left:901.83px;top:901.70px;font-size:12.5px;color:#425A70;transform:scaleX(0.9714)">Red</span>
<span id="r14" class="t " style="left:188.24px;top:949.70px;font-size:12.5px;color:#425A70;transform:scaleX(1.1315)">ip</span>
<span id="d14" class="t " style="left:728.10px;top:949.70px;font-size:12.5px;color:#425A70;transform:scaleX(0.9000)">1</span>
<span id="m14" class="t " style="left:737.17px;top:949.70px;font-size:12.5px;color:#425A70;transform:scaleX(1.0296)">more</span>
<span id="c14" class="t " style="left:901.83px;top:949.70px;font-size:12.5px;color:#425A70;transform:scaleX(0.9714)">Red</span>
<span class="t" style="left:717.6px;top:422.70px;font-size:12.5px;color:#425A70;-webkit-text-stroke:0.22px #425A70">+</span>
<span class="t" style="left:717.6px;top:518.70px;font-size:12.5px;color:#425A70;-webkit-text-stroke:0.22px #425A70">+</span>
<span class="t" style="left:717.6px;top:566.70px;font-size:12.5px;color:#425A70;-webkit-text-stroke:0.22px #425A70">+</span>
<span class="t" style="left:717.6px;top:614.70px;font-size:12.5px;color:#425A70;-webkit-text-stroke:0.22px #425A70">+</span>
<span class="t" style="left:717.6px;top:662.70px;font-size:12.5px;color:#425A70;-webkit-text-stroke:0.22px #425A70">+</span>
<span class="t" style="left:717.6px;top:710.70px;font-size:12.5px;color:#425A70;-webkit-text-stroke:0.22px #425A70">+</span>
<span class="t" style="left:717.6px;top:758.70px;font-size:12.5px;color:#425A70;-webkit-text-stroke:0.22px #425A70">+</span>
<span class="t" style="left:717.6px;top:806.70px;font-size:12.5px;color:#425A70;-webkit-text-stroke:0.22px #425A70">+</span>
<span class="t" style="left:717.6px;top:854.70px;font-size:12.5px;color:#425A70;-webkit-text-stroke:0.22px #425A70">+</span>
<span class="t" style="left:717.6px;top:950.70px;font-size:12.5px;color:#425A70;-webkit-text-stroke:0.22px #425A70">+</span>
</div>
</body></html>
